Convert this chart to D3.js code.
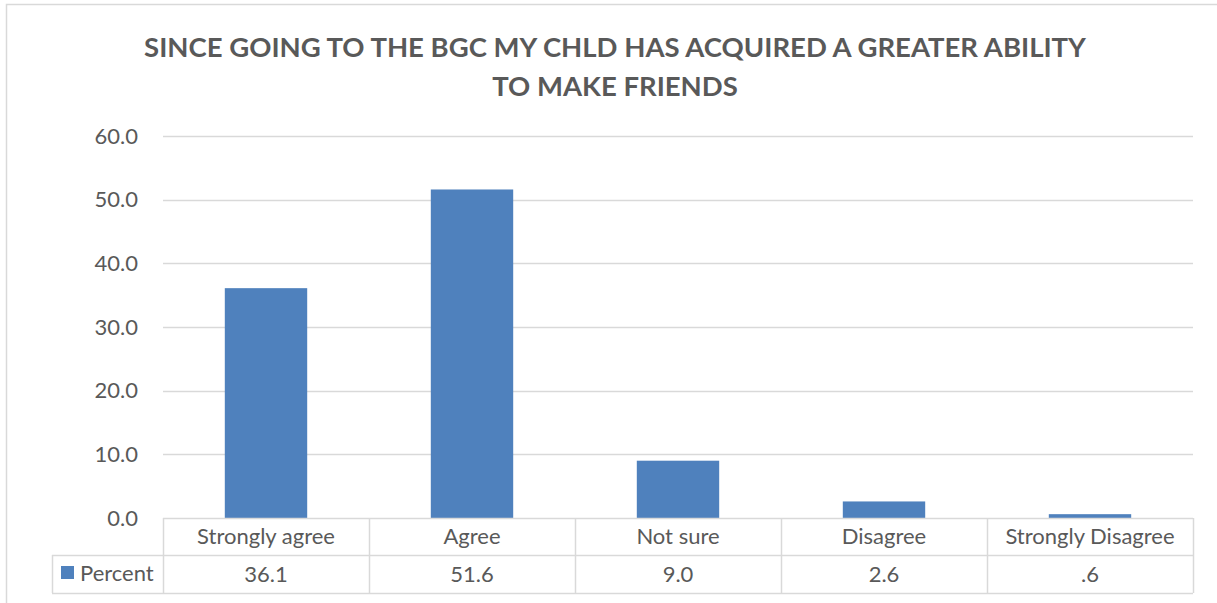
<!DOCTYPE html>
<html><head><meta charset="utf-8">
<script src="https://cdn.jsdelivr.net/npm/d3@7"></script>
<style>
html,body{margin:0;padding:0;background:#fff;}
svg{display:block;font-family:Lato,"Open Sans",sans-serif;}
</style></head>
<body><svg id="c" width="1217" height="603"></svg>
<script>
const categories = ["Strongly agree","Agree","Not sure","Disagree","Strongly Disagree"];
const percent = [36.1, 51.6, 9.0, 2.6, 0.6];
const valueLabels = ["36.1","51.6","9.0","2.6",".6"];
const yTicks = [0,10,20,30,40,50,60];
const seriesName = "Percent";
const titleLines = ["SINCE GOING TO THE BGC MY CHLD HAS ACQUIRED A GREATER ABILITY","TO MAKE FRIENDS"];

const svg = d3.select("#c");
const W = 1217, H = 603;
const plot = {left:163, right:1193, top:136, bottom:518};
const tableRow1 = 555, tableBottom = 593, legendLeft = 52;
const textColor = "#595959", gridColor = "#d9d9d9", barColor = "#4f81bd";
const fs = 22;

// outer chart border
svg.append("rect").attr("x",6.5).attr("y",4.5).attr("width",W+10).attr("height",H+10)
  .attr("fill","none").attr("stroke","#d9d9d9").attr("stroke-width",1.5);

// title
svg.append("g").selectAll("text").data(titleLines).join("text")
  .attr("x",615).attr("y",(d,i)=>57+i*39)
  .attr("text-anchor","middle").attr("font-weight","bold").attr("font-size",27.5)
  .attr("fill",textColor).text(d=>d);

const x = d3.scaleBand().domain(categories).range([plot.left,plot.right]).paddingInner(0).paddingOuter(0);
const y = d3.scaleLinear().domain([0,60]).range([plot.bottom,plot.top]);

// gridlines
svg.append("g").selectAll("line").data(yTicks.filter(d=>d>0)).join("line")
  .attr("x1",plot.left).attr("x2",plot.right)
  .attr("y1",d=>Math.round(y(d))+0.5).attr("y2",d=>Math.round(y(d))+0.5)
  .attr("stroke",gridColor).attr("stroke-width",1.5);

// y axis labels
const yAxis = d3.axisLeft(y).tickValues(yTicks).tickFormat(d3.format(".1f")).tickSize(0).tickPadding(0);
const ya = svg.append("g").attr("transform",`translate(${138},0)`).call(yAxis);
ya.select(".domain").remove();
ya.selectAll("text").attr("font-size",fs).attr("fill",textColor).attr("font-family","Lato,'Open Sans',sans-serif");

// bars
const bw = x.bandwidth()*0.4;
svg.append("g").selectAll("rect").data(percent).join("rect")
  .attr("x",(d,i)=>x(categories[i])+x.bandwidth()/2-bw/2)
  .attr("width",bw)
  .attr("y",d=>y(d)).attr("height",d=>y(0)-y(d))
  .attr("fill",barColor);

// data table
const tg = svg.append("g").attr("stroke",gridColor).attr("stroke-width",1.5).attr("fill","none");
tg.append("line").attr("x1",plot.left).attr("x2",plot.right).attr("y1",plot.bottom+0.5).attr("y2",plot.bottom+0.5);
tg.append("line").attr("x1",legendLeft).attr("x2",plot.right).attr("y1",tableRow1+0.5).attr("y2",tableRow1+0.5);
tg.append("line").attr("x1",legendLeft).attr("x2",plot.right).attr("y1",tableBottom+0.5).attr("y2",tableBottom+0.5);
tg.append("line").attr("x1",legendLeft+0.5).attr("x2",legendLeft+0.5).attr("y1",tableRow1).attr("y2",tableBottom);
const bounds = categories.map(c=>x(c)).concat([plot.right]);
tg.selectAll("line.v").data(bounds).join("line").attr("class","v")
  .attr("x1",d=>Math.round(d)+0.5).attr("x2",d=>Math.round(d)+0.5)
  .attr("y1",plot.bottom).attr("y2",tableBottom);

svg.append("g").selectAll("text").data(categories).join("text")
  .attr("x",d=>x(d)+x.bandwidth()/2).attr("y",544)
  .attr("text-anchor","middle").attr("font-size",fs).attr("fill",textColor).text(d=>d);
svg.append("g").selectAll("text").data(valueLabels).join("text")
  .attr("x",(d,i)=>x(categories[i])+x.bandwidth()/2).attr("y",582)
  .attr("text-anchor","middle").attr("font-size",fs).attr("fill",textColor).text(d=>d);

// legend key
svg.append("rect").attr("x",61).attr("y",566).attr("width",13).attr("height",13).attr("fill",barColor);
svg.append("text").attr("x",80).attr("y",581).attr("font-size",fs).attr("fill",textColor).text(seriesName);
</script></body></html>
